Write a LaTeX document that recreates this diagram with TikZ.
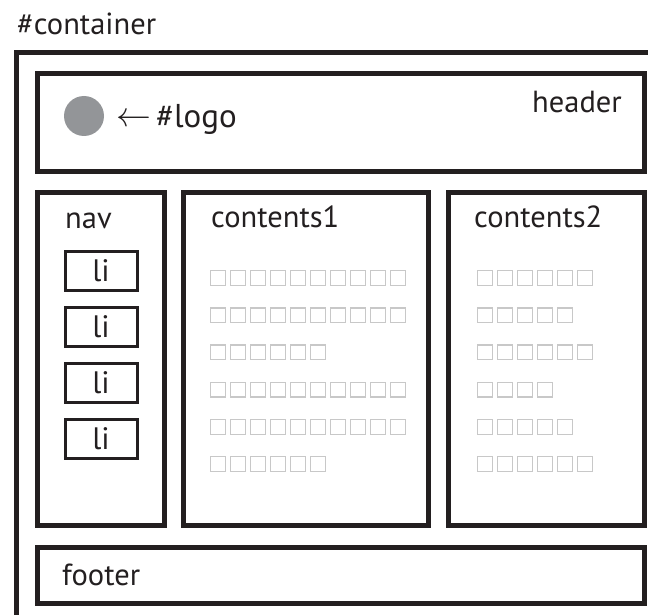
\documentclass[tikz,border=0pt]{standalone}
\usepackage{fontspec}
\setmainfont{PT Sans}
\usetikzlibrary{positioning}

\definecolor{ink}{HTML}{231F20}
\definecolor{logogray}{HTML}{939598}
\definecolor{cellgray}{HTML}{C8C8C8}

\tikzset{
  layoutbox/.style = {draw = ink, line width = 5pt, inner sep = 0,
    anchor = north west},
  libox/.style = {draw = ink, line width = 3pt, inner sep = 0,
    minimum width = 72pt, minimum height = 39pt, anchor = north west,
    font = \fontsize{31}{36}\selectfont, text = ink},
  lbl/.style = {inner sep = 0, anchor = base west, text = ink,
    font = \fontsize{30.5}{36}\selectfont},
  cell/.style = {draw = cellgray, line width = 1.3pt}
}

\begin{document}
\begin{tikzpicture}[x = 1pt, y = -1pt]
  \useasboundingbox (0, 0) rectangle (648, 615);
  \clip (0, 0) rectangle (648, 615);

  % outer container, runs off the page
  \draw[ink, line width = 5pt] (16.5, 650) |- (660, 52.5);
  \node[lbl] (containerlbl) at (17, 35) {\#container};

  % header
  \node[layoutbox, minimum width = 607pt, minimum height = 98pt]
  (header) at (34.5, 71.5) {};
  \node[lbl] (headerlbl) at (532, 113) {header};
  \node[circle, fill = logogray, minimum size = 40pt, inner sep = 0]
  (logo) at (84, 116) {};
  \node[lbl, font = \fontsize{33}{38}\selectfont] (logolbl) at (116, 128)
  {\raisebox{1pt}{\scalebox{1.4}{$\leftarrow$}}\kern 5pt\#logo};

  % columns
  \node[layoutbox, minimum width = 127pt, minimum height = 333pt]
  (nav) at (34.5, 189.5) {};
  \node[layoutbox, minimum width = 245pt, minimum height = 333pt]
  (contentsA) at (180.5, 189.5) {};
  \node[layoutbox, minimum width = 196pt, minimum height = 333pt]
  (contentsB) at (445.5, 189.5) {};
  \node[lbl] (navlbl) at (65, 228) {nav};
  \node[lbl] (contentsAlbl) at (211, 227) {contents1};
  \node[lbl] (contentsBlbl) at (474, 227) {contents2};

  \foreach \i in {0, ..., 3}{
    \node[libox] (li\i) at (63.5, 249.5 + 56*\i) {li};
  }

  % placeholder text
  \foreach \na/\nb [count = \r from 0] in {10/6, 10/5, 6/6, 10/4, 10/5, 6/6}{
    \foreach \c in {1, ..., \na}{
      \draw[cell] ({210.65 + 20*(\c - 1)}, {270.65 + 37.2*\r})
      rectangle ++(14.7, 14.7);
    }
    \foreach \c in {1, ..., \nb}{
      \draw[cell] ({477.65 + 20*(\c - 1)}, {270.65 + 37.2*\r})
      rectangle ++(14.7, 14.7);
    }
  }

  % footer
  \node[layoutbox, minimum width = 607pt, minimum height = 56pt]
  (footer) at (34.5, 544.5) {};
  \node[lbl] (footerlbl) at (62, 585) {footer};
\end{tikzpicture}
\end{document}
